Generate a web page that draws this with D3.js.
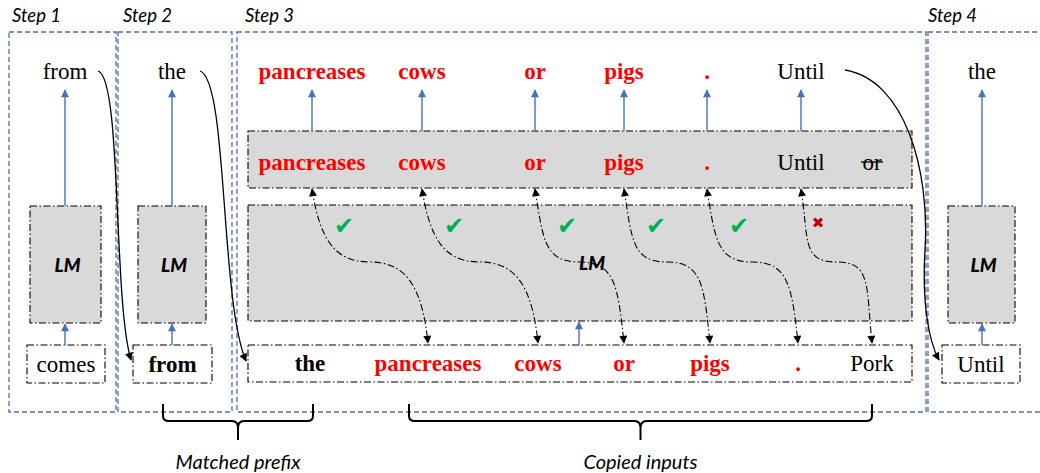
<!DOCTYPE html>
<html>
<head>
<meta charset="utf-8">
<script src="https://cdn.jsdelivr.net/npm/d3@7"></script>
<style>
  body { margin: 0; background: #fff; }
  svg { display: block; }
</style>
</head>
<body>
<script>
var width = 1040, height = 473;

// content
var stepNames = ["Step 1", "Step 2", "Step 3", "Step 4"];
var singleOut = ["from", "the", "the"];          // steps 1, 2, 4
var singleIn = ["comes", "from", "Until"];
var singleInBold = [false, true, false];
var draftWords = ["pancreases", "cows", "or", "pigs", ".", "Until"];
var draftCopied = [true, true, true, true, true, false];
var draftExtra = "or";                               // struck through
var inputWords = ["the", "pancreases", "cows", "or", "pigs", ".", "Pork"];
var inputKind = ["bold", "copy", "copy", "copy", "copy", "copy", "plain"];
var accepted = [true, true, true, true, true, false];
var braceLabels = ["Matched prefix", "Copied inputs"];

// layout
var frameX = [[9, 116], [118, 232], [237, 926], [928, 1046]];
var stepLabelX = [12, 123, 245, 928];
var singleX = [65, 172, 982];
var singleLM = [[30, 101], [138, 206], [948, 1015]];
var singleBox = [[27, 105], [133, 212], [942, 1020]];
var draftX = [312, 422, 535, 624, 707, 801];
var extraX = 872;
var inputX = [310, 428, 538, 624, 710, 798, 872];
var braceX = [[163, 313], [409, 872]];

var blue = "#4472c4", frameBlue = "#2f5597", red = "#ff0000", grey = "#d9d9d9";
var dashDot = "7,2.5,1.5,2.5";
var serif = "'Liberation Serif', 'Times New Roman', serif";
var sans = "Lato, 'Open Sans', sans-serif";

var svg = d3.select("body").append("svg").attr("width", width).attr("height", height);
var defs = svg.append("defs");
function marker(id, color, w, h, orient) {
  defs.append("marker").attr("id", id).attr("viewBox", "0 0 10 10")
    .attr("refX", 9).attr("refY", 5).attr("markerUnits", "userSpaceOnUse")
    .attr("markerWidth", w).attr("markerHeight", h).attr("orient", orient)
    .append("path").attr("d", "M0,0L10,5L0,10z").attr("fill", color);
}
marker("blueHead", blue, 9, 8, "auto");
marker("blackHead", "#000", 9, 8, "auto");
marker("blackHeadRev", "#000", 9, 8, "auto-start-reverse");

// step frames
svg.selectAll(".frame").data(frameX).enter().append("rect")
  .attr("x", function(d) { return d[0]; }).attr("y", 32)
  .attr("width", function(d) { return d[1] - d[0]; }).attr("height", 380)
  .attr("fill", "none").attr("stroke", frameBlue).attr("stroke-width", 1.3)
  .attr("stroke-opacity", 0.85).attr("stroke-dasharray", "5,3");

svg.selectAll(".stepLabel").data(stepNames).enter().append("text")
  .attr("x", function(d, i) { return stepLabelX[i]; }).attr("y", 22)
  .attr("font-family", sans).attr("font-style", "italic").attr("font-size", 18.5)
  .text(function(d) { return d; });

function lmBox(x0, x1, y0, y1, labelX) {
  svg.append("rect").attr("x", x0).attr("y", y0).attr("width", x1 - x0).attr("height", y1 - y0)
    .attr("fill", grey).attr("stroke", "#000").attr("stroke-width", 1.1).attr("stroke-dasharray", dashDot);
  svg.append("text").attr("x", labelX).attr("y", (y0 + y1) / 2 + 7).attr("text-anchor", "middle")
    .attr("font-family", sans).attr("font-weight", "900").attr("font-style", "italic")
    .attr("font-size", 19).text("LM");
}
function blueArrow(x, y0, y1) {
  svg.append("line").attr("x1", x).attr("x2", x).attr("y1", y0).attr("y2", y1)
    .attr("stroke", blue).attr("stroke-width", 1.4).attr("marker-end", "url(#blueHead)");
}
function word(x, y, t, kind) {
  return svg.append("text").attr("x", x).attr("y", y).attr("text-anchor", "middle")
    .attr("font-family", serif).attr("font-size", 23)
    .attr("font-weight", kind === "plain" ? "normal" : "bold")
    .attr("fill", kind === "copy" ? red : "#000").text(t);
}

// single-token steps
singleOut.forEach(function(w, i) {
  var x = singleX[i];
  lmBox(singleLM[i][0], singleLM[i][1], 206, 323, (singleLM[i][0] + singleLM[i][1]) / 2 + 2);
  svg.append("rect").attr("x", singleBox[i][0]).attr("y", 345)
    .attr("width", singleBox[i][1] - singleBox[i][0]).attr("height", 38)
    .attr("fill", "#fff").attr("stroke", "#000").attr("stroke-width", 1.1).attr("stroke-dasharray", dashDot);
  word(x, 79, w, "plain");
  word((singleBox[i][0] + singleBox[i][1]) / 2, 372, singleIn[i], singleInBold[i] ? "bold" : "plain");
  blueArrow(x, 206, 90);
  blueArrow(x, 345, 324);
});

// step 3 boxes
svg.append("rect").attr("x", 248).attr("y", 131).attr("width", 664).attr("height", 57)
  .attr("fill", grey).attr("stroke", "#000").attr("stroke-width", 1.1).attr("stroke-dasharray", dashDot);
lmBox(248, 912, 205, 321, 592);
svg.append("rect").attr("x", 248).attr("y", 345).attr("width", 664).attr("height", 37)
  .attr("fill", "#fff").attr("stroke", "#000").attr("stroke-width", 1.1).attr("stroke-dasharray", dashDot);
blueArrow(579, 345, 322);

draftWords.forEach(function(w, i) {
  var kind = draftCopied[i] ? "copy" : "plain";
  word(draftX[i], 79, w, kind);
  word(draftX[i], 170, w, kind);
  blueArrow(draftX[i], 131, 90);
});
word(extraX, 170, draftExtra, "plain");
svg.append("line").attr("x1", extraX - 11).attr("x2", extraX + 11).attr("y1", 162).attr("y2", 162)
  .attr("stroke", "#000").attr("stroke-width", 1.3);

inputWords.forEach(function(w, i) { word(inputX[i], 371, w, inputKind[i]); });

// copy links (draft token i <- input token i+1)
accepted.forEach(function(ok, i) {
  var x1 = draftX[i], x2 = inputX[i + 1], xm = (x1 + x2) / 2;
  var p = d3.path();
  p.moveTo(x1, 189);
  p.bezierCurveTo(x1 + 8, 240, xm - 35, 262, xm, 262);
  p.bezierCurveTo(xm + 35, 262, x2 - 6, 285, x2, 343);
  svg.append("path").attr("d", p.toString()).attr("fill", "none").attr("stroke", "#000")
    .attr("stroke-width", 1.1).attr("stroke-dasharray", dashDot)
    .attr("marker-start", "url(#blackHeadRev)").attr("marker-end", "url(#blackHead)");
  svg.append("text").attr("x", x1 + (ok ? 32 : 17)).attr("y", ok ? 234 : 228)
    .attr("text-anchor", "middle").attr("font-family", "'DejaVu Sans', sans-serif")
    .attr("font-size", ok ? 24 : 15).attr("fill", ok ? "#00b050" : "#c00000")
    .text(ok ? "\u2714" : "\u2716");
});

// hand-over arrows between steps
var hand = [
  "M98,71 C122,78 113,300 131,360",
  "M200,71 C228,80 220,300 246,361",
  "M845,70 C905,80 930,170 925,250 C922,300 928,340 939,360"
];
svg.selectAll(".hand").data(hand).enter().append("path")
  .attr("d", function(d) { return d; }).attr("fill", "none").attr("stroke", "#000")
  .attr("stroke-width", 1.3).attr("marker-end", "url(#blackHead)");

// braces
braceX.forEach(function(b, i) {
  var x0 = b[0], x1 = b[1], xc = (x0 + x1) / 2, y = 421;
  var d = "M" + x0 + ",404 V" + (y - 5) + " Q" + x0 + "," + y + " " + (x0 + 6) + "," + y +
    " H" + (xc - 6) + " Q" + xc + "," + y + " " + xc + "," + (y + 7) +
    " Q" + xc + "," + y + " " + (xc + 6) + "," + y +
    " H" + (x1 - 6) + " Q" + x1 + "," + y + " " + x1 + "," + (y - 5) + " V404" +
    " M" + xc + "," + (y + 7) + " V440";
  svg.append("path").attr("d", d).attr("fill", "none").attr("stroke", "#000").attr("stroke-width", 2);
  svg.append("text").attr("x", xc).attr("y", 469).attr("text-anchor", "middle")
    .attr("font-family", sans).attr("font-style", "italic").attr("font-size", 20)
    .text(braceLabels[i]);
});
</script>
</body>
</html>
